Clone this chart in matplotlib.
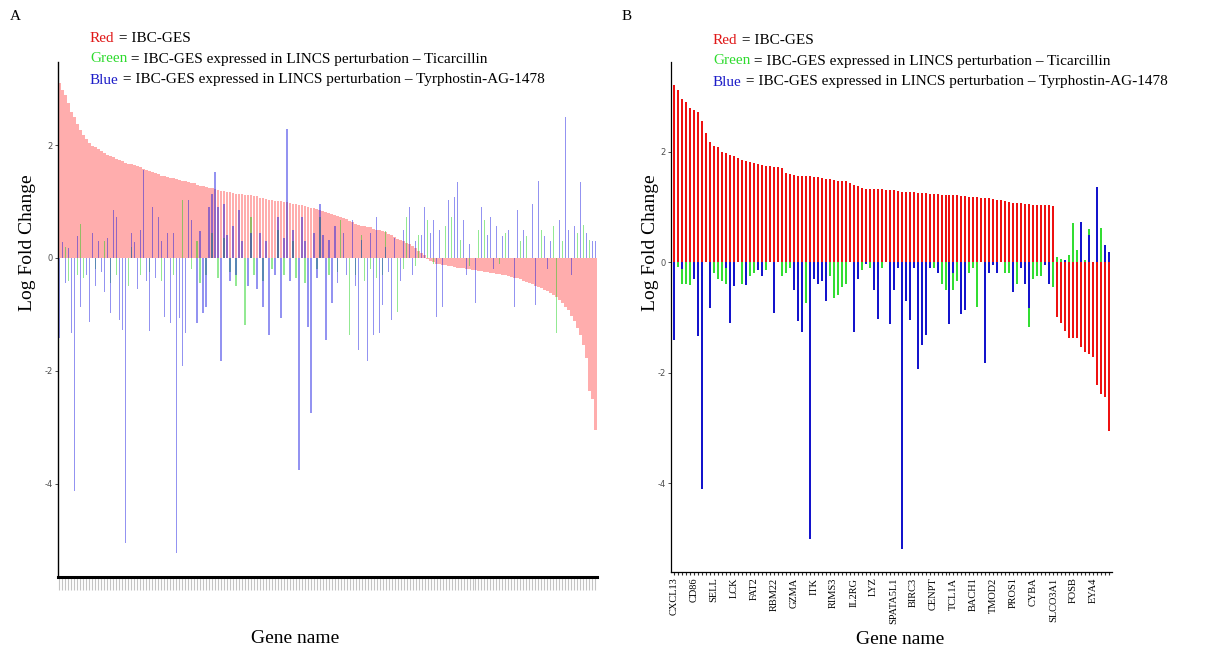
import numpy as np
import matplotlib
matplotlib.use('Agg')
import matplotlib.pyplot as plt

plt.rcParams['font.family'] = ['Liberation Serif', 'DejaVu Serif']

# ---------------- panel A : full signature ----------------
red_a = [
    3.10, 2.98, 2.88, 2.74, 2.58, 2.50, 2.37, 2.26, 2.17, 2.10,
    2.03, 1.99, 1.96, 1.93, 1.90, 1.86, 1.83, 1.80, 1.78, 1.76,
    1.73, 1.71, 1.69, 1.67, 1.66, 1.65, 1.63, 1.61, 1.58, 1.56,
    1.54, 1.52, 1.50, 1.48, 1.46, 1.45, 1.44, 1.42, 1.41, 1.39,
    1.38, 1.37, 1.36, 1.34, 1.33, 1.32, 1.30, 1.28, 1.27, 1.26,
    1.24, 1.23, 1.22, 1.20, 1.19, 1.18, 1.17, 1.16, 1.15, 1.14,
    1.13, 1.13, 1.12, 1.11, 1.11, 1.10, 1.09, 1.07, 1.06, 1.04,
    1.03, 1.02, 1.01, 1.00, 1.00, 0.99, 0.99, 0.98, 0.96, 0.95,
    0.94, 0.93, 0.92, 0.90, 0.89, 0.88, 0.86, 0.85, 0.83, 0.82,
    0.80, 0.78, 0.76, 0.74, 0.72, 0.71, 0.69, 0.66, 0.64, 0.61,
    0.59, 0.57, 0.56, 0.55, 0.54, 0.52, 0.50, 0.49, 0.47, 0.46,
    0.43, 0.40, 0.37, 0.34, 0.32, 0.30, 0.27, 0.24, 0.21, 0.17,
    0.13, 0.09, 0.05, -0.02, -0.06, -0.08, -0.10, -0.11, -0.12, -0.13,
    -0.14, -0.15, -0.16, -0.17, -0.18, -0.18, -0.19, -0.20, -0.21, -0.22,
    -0.23, -0.23, -0.24, -0.25, -0.26, -0.27, -0.28, -0.29, -0.30, -0.31,
    -0.32, -0.33, -0.35, -0.36, -0.38, -0.40, -0.42, -0.45, -0.47, -0.49,
    -0.51, -0.53, -0.56, -0.59, -0.62, -0.66, -0.70, -0.75, -0.80, -0.86,
    -0.93, -1.02, -1.12, -1.24, -1.36, -1.55, -1.78, -2.35, -2.50, -3.05,
]
green_a = [
    0.00, 0.00, 0.20, -0.40, 0.00, 0.00, -0.30, 0.60, -0.35, 0.00,
    0.00, 0.00, -0.20, 0.00, 0.00, 0.30, 0.00, -0.45, 0.00, -0.30,
    0.00, 0.00, 0.00, -0.50, 0.20, 0.00, 0.00, -0.30, 0.00, 0.00,
    -0.25, 0.00, 0.00, 0.00, -0.40, 0.00, 0.00, 0.00, -0.30, 0.00,
    0.00, 1.02, 0.00, 0.00, -0.20, 0.00, 0.30, -0.45, 0.00, -0.30,
    0.00, 0.44, 0.00, -0.35, 0.00, 0.35, 0.00, -0.25, 0.00, -0.50,
    0.00, 0.00, -1.19, 0.00, 0.73, -0.30, 0.00, 0.00, -0.40, 0.00,
    0.00, -0.20, 0.00, 0.50, 0.00, -0.30, 0.00, 0.00, 0.30, -0.35,
    0.00, 0.00, -0.45, 0.00, 0.00, 0.00, -0.20, 0.73, 0.00, 0.00,
    -0.30, 0.00, 0.00, -0.25, 0.67, 0.00, 0.00, -1.36, 0.00, -0.30,
    0.00, 0.40, -0.40, 0.00, -0.20, 0.00, -0.35, 0.00, -0.30, 0.47,
    0.00, 0.00, 0.00, -0.95, 0.00, -0.20, 0.73, 0.00, 0.00, -0.15,
    0.40, 0.00, 0.00, 0.67, 0.00, -0.10, 0.00, 0.00, 0.00, 0.56,
    0.00, 0.73, 0.00, 0.00, 0.32, 0.00, 0.00, -0.15, 0.00, 0.00,
    0.50, 0.00, 0.67, 0.00, 0.00, 0.00, 0.00, -0.10, 0.00, 0.44,
    0.00, 0.00, 0.00, 0.00, 0.30, 0.00, 0.38, 0.00, 0.00, 0.00,
    0.00, 0.50, 0.00, 0.00, 0.00, 0.56, -1.33, 0.00, 0.30, 0.00,
    0.00, 0.00, 0.00, 0.44, 0.00, 0.58, 0.00, 0.32, 0.00, 0.00,
]
blue_a = [
    -1.42, 0.29, -0.45, 0.18, -1.33, -4.13, 0.38, -0.86, 0.00, -0.30,
    -1.13, 0.44, -0.50, 0.30, -0.25, -0.60, 0.35, -0.98, 0.85, 0.73,
    -1.10, -1.27, -5.05, 0.00, 0.44, 0.29, -0.55, 0.50, 1.55, -0.40,
    -1.30, 0.90, -0.35, 0.73, 0.30, -1.04, 0.44, -1.15, 0.44, -5.23,
    -1.07, -1.92, -1.33, 1.02, 0.67, 0.00, -1.15, 0.47, -0.98, -0.86,
    0.90, 1.14, 1.52, 0.91, -1.83, 0.96, 0.40, -0.40, 0.56, -0.30,
    0.85, 0.30, 0.00, -0.50, 0.44, 0.00, -0.55, 0.44, -0.86, 0.30,
    -1.36, 0.00, -0.30, 0.73, -1.07, 0.35, 2.28, -0.40, 0.50, 0.00,
    -3.75, 0.73, 0.30, -1.22, -2.75, 0.44, -0.35, 0.96, 0.40, -1.45,
    0.32, -0.80, 0.56, -0.45, 0.00, 0.44, -0.30, 0.00, 0.67, -0.50,
    -1.63, 0.32, 0.00, -1.83, 0.44, -1.36, 0.73, -1.33, -0.83, 0.20,
    -0.25, -1.10, 0.35, 0.00, -0.40, 0.50, 0.00, 0.91, -0.30, 0.30,
    0.00, 0.40, 0.91, 0.00, 0.44, 0.67, -1.04, 0.50, -0.86, 0.00,
    1.02, 0.00, 1.08, 1.35, 0.00, 0.67, -0.30, 0.25, 0.00, -0.80,
    0.00, 0.91, 0.00, 0.40, 0.73, -0.20, 0.56, 0.00, 0.38, 0.00,
    0.50, 0.00, -0.86, 0.85, 0.00, 0.50, 0.00, 0.00, 0.96, -0.83,
    1.37, 0.00, 0.38, -0.20, 0.30, 0.00, 0.00, 0.67, 0.00, 2.49,
    0.50, -0.30, 0.56, 0.00, 1.35, 0.00, 0.44, 0.00, 0.30, 0.30,
]

# ---------------- panel B : filtered genes ----------------
red_b = [
    3.21, 3.12, 2.95, 2.89, 2.78, 2.75, 2.72, 2.55, 2.33, 2.17,
    2.10, 2.08, 1.99, 1.97, 1.94, 1.92, 1.88, 1.85, 1.83, 1.81,
    1.79, 1.77, 1.76, 1.74, 1.73, 1.72, 1.72, 1.70, 1.62, 1.60,
    1.57, 1.56, 1.56, 1.55, 1.55, 1.54, 1.53, 1.52, 1.51, 1.51,
    1.49, 1.47, 1.47, 1.46, 1.43, 1.40, 1.37, 1.34, 1.33, 1.32,
    1.32, 1.32, 1.32, 1.31, 1.31, 1.31, 1.28, 1.27, 1.27, 1.26,
    1.26, 1.25, 1.25, 1.25, 1.24, 1.24, 1.23, 1.22, 1.22, 1.22,
    1.21, 1.21, 1.20, 1.19, 1.18, 1.18, 1.17, 1.16, 1.15, 1.15,
    1.14, 1.13, 1.12, 1.10, 1.08, 1.07, 1.06, 1.06, 1.05, 1.05,
    1.04, 1.04, 1.03, 1.03, 1.03, 1.02, -1.00, -1.10, -1.25, -1.38,
    -1.38, -1.38, -1.53, -1.62, -1.67, -1.71, -2.23, -2.38, -2.45, -3.05,
]
green_b = [
    0.00, -0.09, -0.40, -0.40, -0.42, 0.00, 0.00, 0.00, 0.00, 0.00,
    -0.20, -0.30, -0.35, -0.40, 0.00, 0.00, 0.00, -0.40, 0.00, -0.25,
    -0.20, 0.00, 0.00, -0.15, 0.00, 0.00, 0.00, -0.25, -0.20, -0.10,
    0.00, 0.00, 0.00, -0.75, 0.00, 0.00, 0.00, 0.00, 0.00, -0.25,
    -0.65, -0.60, -0.45, -0.40, 0.00, 0.00, 0.00, -0.15, 0.00, -0.10,
    0.00, 0.00, -0.10, 0.00, 0.00, 0.00, 0.00, 0.00, 0.00, 0.00,
    0.00, 0.00, 0.00, 0.00, 0.00, -0.10, 0.00, -0.40, -0.50, 0.00,
    -0.50, -0.35, 0.00, 0.00, -0.20, -0.10, -0.81, 0.00, 0.00, 0.00,
    0.00, 0.00, 0.00, -0.20, -0.20, 0.00, -0.40, 0.00, 0.00, -1.18,
    -0.30, -0.25, -0.25, 0.00, 0.00, -0.45, 0.09, 0.06, 0.00, 0.12,
    0.70, 0.22, 0.00, 0.03, 0.59, 0.00, 0.00, 0.61, 0.00, 0.00,
]
blue_b = [
    -1.42, 0.00, -0.12, 0.00, 0.00, -0.30, -1.33, -4.10, 0.00, -0.84,
    0.00, 0.00, 0.00, -0.10, -1.10, -0.44, 0.00, 0.00, -0.42, 0.00,
    0.00, -0.15, -0.25, 0.00, 0.00, -0.93, 0.00, 0.00, 0.00, 0.00,
    -0.50, -1.07, -1.27, 0.00, -5.02, -0.30, -0.40, -0.35, -0.70, 0.00,
    0.00, 0.00, 0.00, 0.00, 0.00, -1.27, -0.30, 0.00, -0.03, 0.00,
    -0.50, -1.04, 0.00, 0.00, -1.13, -0.50, -0.10, -5.19, -0.70, -1.05,
    -0.10, -1.93, -1.50, -1.32, -0.10, 0.00, -0.20, 0.00, 0.00, -1.13,
    -0.20, 0.00, -0.94, -0.87, 0.00, 0.00, 0.00, 0.00, -1.82, -0.20,
    -0.05, -0.20, 0.00, 0.00, 0.00, -0.55, 0.00, -0.10, -0.40, -0.84,
    0.00, 0.00, 0.00, -0.05, -0.40, 0.00, 0.00, 0.00, 0.04, 0.00,
    0.00, 0.00, 0.72, 0.00, 0.48, 0.00, 1.36, 0.00, 0.30, 0.18,
]
# every fifth gene carries a name on the axis
labels_b = ['CXCL13', 'CD86', 'SELL', 'LCK', 'FAT2', 'RBM22', 'GZMA', 'ITK',
            'RIMS3', 'IL2RG', 'LYZ', 'SPATA5L1', 'BIRC3', 'CENPT', 'TCL1A',
            'BACH1', 'TMOD2', 'PROS1', 'CYBA', 'SLCO3A1', 'FOSB', 'EYA4']

legend_rest = ['IBC-GES',
               'IBC-GES expressed in LINCS perturbation \u2013 Ticarcillin',
               'IBC-GES expressed in LINCS perturbation \u2013 Tyrphostin-AG-1478']
legend_words = ['Red', 'Green', 'Blue']
legend_cols = ['#E01818', '#2EDB2E', '#1C1CC8']


def style_axis(ax, ylo, yhi):
    for s in ['top', 'right']:
        ax.spines[s].set_visible(False)
    ax.set_ylim(ylo, yhi)
    ax.set_yticks([-4, -2, 0, 2])
    ax.set_yticklabels(['-4', '-2', '0', '2'], fontsize=6, color='#4D4D4D',
                       family='DejaVu Sans')
    ax.tick_params(axis='y', length=2.5, width=0.6, color='#333333', pad=1.5)
    ax.set_ylabel('Log Fold Change', fontsize=14)
    ax.set_xlabel('Gene name', fontsize=14)


def legend_block(fig, x0, y0s):
    renderer = fig.canvas.get_renderer()
    for word, col, rest, y in zip(legend_words, legend_cols, legend_rest, y0s):
        t = fig.text(x0, y, word, color=col, fontsize=11, va='center', ha='left')
        bb = t.get_window_extent(renderer=renderer)
        x1 = bb.x1 / fig.bbox.width
        fig.text(x1, y, ' = ' + rest, color='black', fontsize=11, va='center', ha='left')


fig = plt.figure(figsize=(12.18, 6.62), dpi=100)

# panel A
axA = fig.add_axes([58/1218, 1-577/662, 539/1218, 515/662])
xa = np.arange(len(red_a))
axA.bar(xa, red_a, width=0.92, color='#FF0000', alpha=0.32, linewidth=0)
axA.bar(xa, green_a, width=0.45, color='#10D010', alpha=0.45, linewidth=0)
axA.bar(xa, blue_a, width=0.45, color='#1010E0', alpha=0.45, linewidth=0)
axA.set_xlim(-0.5, len(red_a) - 0.4)
style_axis(axA, -5.65, 3.47)
axA.spines['left'].set_linewidth(1.0)
axA.spines['bottom'].set_linewidth(2.2)
axA.set_xticks(xa)
axA.set_xticklabels([])
axA.tick_params(axis='x', length=9, width=0.8, color='#C4C4C4', direction='out')
axA.yaxis.set_label_coords(-0.040, 0.65)
axA.xaxis.set_label_coords(0.44, -0.102)

# panel B
axB = fig.add_axes([671/1218, 1-572/662, 441/1218, 510/662])
xb = np.arange(len(red_b))
axB.bar(xb, red_b, width=0.5, color='#EE1111', linewidth=0)
axB.bar(xb, green_b, width=0.5, color='#33DD33', linewidth=0)
axB.bar(xb, blue_b, width=0.5, color='#1414CC', linewidth=0)
axB.set_xlim(-0.75, len(red_b) - 0.3)
style_axis(axB, -5.61, 3.62)
axB.spines['left'].set_linewidth(0.9)
axB.spines['bottom'].set_linewidth(0.9)
axB.set_xticks(xb)
tick_names = [''] * len(red_b)
for k, name in enumerate(labels_b):
    tick_names[5 * k] = name
axB.set_xticklabels(tick_names, rotation=90, fontsize=7.5)
axB.tick_params(axis='x', length=2, width=0.8, color='#333333', pad=2)
axB.yaxis.set_label_coords(-0.027, 0.645)
axB.xaxis.set_label_coords(0.52, -0.116)

fig.text(10/1218, 1-16/662, 'A', fontsize=11, va='center', ha='left')
fig.text(622/1218, 1-16/662, 'B', fontsize=11, va='center', ha='left')

legend_block(fig, 90/1218, [1-38/662, 1-59/662, 1-80/662])
legend_block(fig, 713/1218, [1-40/662, 1-61/662, 1-82/662])

fig.savefig('out.png', dpi=100)
